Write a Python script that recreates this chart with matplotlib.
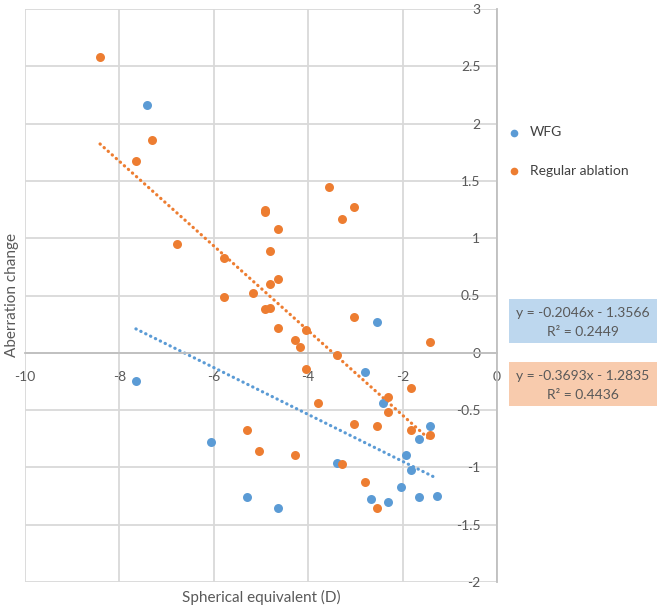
import matplotlib
matplotlib.use("Agg")
import matplotlib.pyplot as plt
from matplotlib.patches import Rectangle

plt.rcParams['font.family'] = ['Lato', 'DejaVu Sans']

# ── Data ──────────────────────────────────────────────────
wfg_x = [-7.42, -7.65, -6.06, -5.30, -4.65, -3.40, -2.80, -2.54, -2.42,
         -2.68, -2.30, -2.04, -1.93, -1.82, -1.66, -1.66, -1.43, -1.28]
wfg_y = [2.16, -0.25, -0.78, -1.26, -1.35, -0.96, -0.17, 0.27, -0.44,
         -1.28, -1.30, -1.17, -0.89, -1.02, -0.75, -1.26, -0.64, -1.25]

reg_x = [-8.41, -7.31, -7.65, -6.78, -5.79, -5.79, -5.18, -4.92, -4.92, -4.65,
         -4.81, -4.65, -4.81, -4.92, -4.81, -4.65, -4.05, -4.27, -4.17, -3.55,
         -3.28, -3.02, -3.02, -3.40, -4.05, -3.79, -1.43, -1.82, -2.30, -2.30,
         -3.02, -2.54, -1.82, -1.43, -5.30, -5.04, -4.27, -3.28, -2.80, -2.54]
reg_y = [2.58, 1.86, 1.67, 0.95, 0.83, 0.49, 0.52, 1.25, 1.23, 1.08,
         0.89, 0.64, 0.60, 0.38, 0.39, 0.22, 0.20, 0.11, 0.05, 1.45,
         1.17, 1.27, 0.31, -0.02, -0.14, -0.44, 0.09, -0.31, -0.39, -0.52,
         -0.62, -0.64, -0.67, -0.72, -0.67, -0.86, -0.89, -0.97, -1.13, -1.35]

# trendline coefficients as printed on the chart
wfg_slope, wfg_icpt, wfg_r2 = -0.2046, -1.3566, 0.2449
reg_slope, reg_icpt, reg_r2 = -0.3693, -1.2835, 0.4436

x_ticks = [-10, -8, -6, -4, -2, 0]
y_ticks = [-2, -1.5, -1, -0.5, 0, 0.5, 1, 1.5, 2, 2.5, 3]

BLUE = '#5b9bd5'
ORANGE = '#ed7d31'
TXT = '#595959'
GRID = '#d9d9d9'

# ── Figure ────────────────────────────────────────────────
fig = plt.figure(figsize=(6.6, 6.1), dpi=100)
ax = fig.add_axes([25 / 660, 1 - 582 / 610, 472 / 660, 573 / 610])

ax.scatter(wfg_x, wfg_y, s=42, color=BLUE, label='WFG', zorder=3, linewidths=0)
ax.scatter(reg_x, reg_y, s=42, color=ORANGE, label='Regular ablation', zorder=3, linewidths=0)

for xs, m, b, c in [(wfg_x, wfg_slope, wfg_icpt, BLUE), (reg_x, reg_slope, reg_icpt, ORANGE)]:
    x0, x1 = min(xs), max(xs)
    ax.plot([x0, x1], [m * x0 + b, m * x1 + b], color=c, lw=2.3,
            linestyle=(0, (0.1, 1.6)), dash_capstyle='round', zorder=2)

ax.set_xlim(-10, 0)
ax.set_ylim(-2, 3)
ax.set_xticks(x_ticks)
ax.set_yticks(y_ticks)
ax.set_xticklabels([f'{t:g}' for t in x_ticks])
ax.set_yticklabels([f'{t:g}' for t in y_ticks])
ax.grid(True, color=GRID, lw=1.3, zorder=0)
ax.set_axisbelow(True)

for s in ['top', 'right']:
    ax.spines[s].set_visible(False)
ax.spines['left'].set_position(('data', 0))
ax.spines['bottom'].set_position(('data', 0))
for s in ['left', 'bottom']:
    ax.spines[s].set_color('#bfbfbf')
    ax.spines[s].set_linewidth(1.3)
ax.tick_params(length=0, labelsize=10, colors=TXT)
ax.tick_params(axis='y', pad=12)
ax.tick_params(axis='x', pad=13)

fig.text(261 / 660, 1 - 597 / 610, 'Spherical equivalent (D)', ha='center', va='center',
         fontsize=11, color=TXT)
fig.text(12 / 660, 1 - 295 / 610, 'Aberration change', ha='center', va='center',
         rotation=90, fontsize=11, color=TXT)

# ── Legend ────────────────────────────────────────────────
fig.legend(loc='upper left', bbox_to_anchor=(495 / 660, 1 - 114 / 610), frameon=False,
           fontsize=10, labelcolor='#404040', handletextpad=0.6, labelspacing=1.9,
           handlelength=1.0, scatterpoints=1, markerscale=0.85)

# ── Equation boxes ────────────────────────────────────────
for top, col, m, b, r2 in [(299, '#bdd7ee', wfg_slope, wfg_icpt, wfg_r2),
                            (362, '#f8cbad', reg_slope, reg_icpt, reg_r2)]:
    fig.add_artist(Rectangle((509 / 660, 1 - (top + 44) / 610), 148 / 660, 44 / 610,
                             transform=fig.transFigure, facecolor=col, edgecolor='none'))
    fig.text(583 / 660, 1 - (top + 14) / 610, f'y = {m:.4f}x - {abs(b):.4f}',
             ha='center', va='center', fontsize=10, color=TXT)
    fig.text(583 / 660, 1 - (top + 33) / 610, f'R² = {r2:.4f}',
             ha='center', va='center', fontsize=10, color=TXT)

fig.savefig('out.png', dpi=100)
